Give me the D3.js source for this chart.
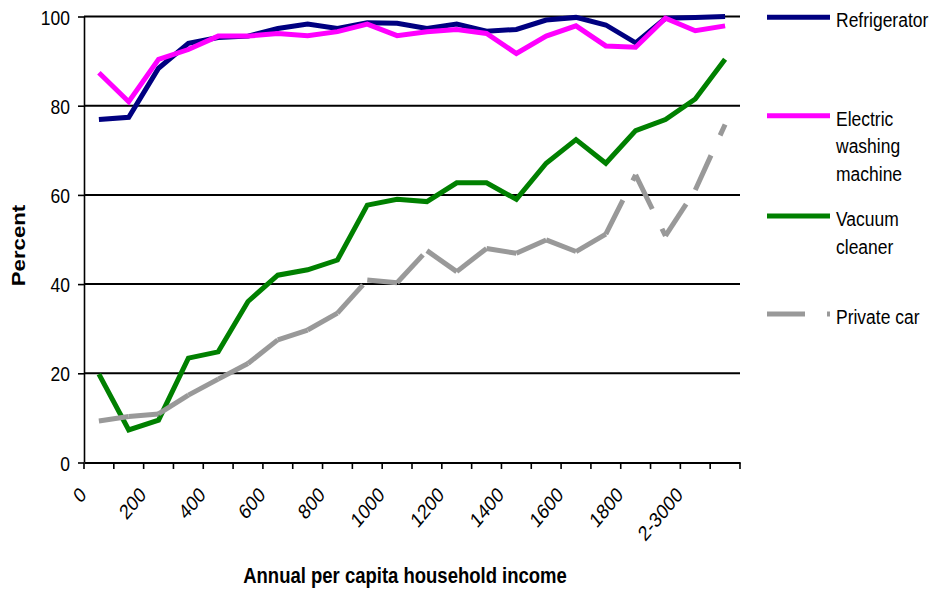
<!DOCTYPE html>
<html>
<head>
<meta charset="utf-8">
<script src="https://cdn.jsdelivr.net/npm/d3@7"></script>
<style>
  html, body { margin: 0; padding: 0; background: #ffffff; }
  svg { display: block; }
</style>
</head>
<body>
<svg id="chart" width="933" height="591"></svg>
<script>
// Household durables ownership by annual per capita income
const incomeBands = ["0", "100", "200", "300", "400", "500", "600", "700", "800", "900",
  "1000", "1100", "1200", "1300", "1400", "1500", "1600", "1700", "1800", "1900", "2-3000", "3000+"];
const tickLabels = ["0", "200", "400", "600", "800", "1000", "1200", "1400", "1600", "1800", "2-3000"];
const yTicks = [0, 20, 40, 60, 80, 100];

const refrigerator = [76.9, 77.4, 88.4, 94.0, 95.3, 95.6, 97.3, 98.3, 97.3, 98.6, 98.5,
  97.3, 98.3, 96.7, 97.1, 99.2, 99.8, 98.1, 94.1, 99.6, 99.8, 100];
const washingMachine = [87.4, 80.9, 90.4, 92.6, 95.6, 95.6, 96.2, 95.7, 96.6, 98.3, 95.7,
  96.6, 97.1, 96.2, 91.7, 95.6, 97.9, 93.4, 93.1, 99.6, 96.8, 97.9];
const vacuumCleaner = [19.8, 7.3, 9.5, 23.4, 24.8, 36.1, 42.0, 43.2, 45.4, 57.7, 59.0,
  58.5, 62.7, 62.7, 59.0, 67.1, 72.4, 67.1, 74.4, 76.9, 81.5, 90.4];
const privateCar = [9.3, 10.3, 10.9, 15.1, 18.7, 22.2, 27.5, 29.7, 33.5, 40.9, 40.3,
  47.5, 42.8, 48.0, 46.9, 49.9, 47.3, 51.2, 64.5, 50.8, 61.1, 75.8];

const seriesNames = [["Refrigerator"], ["Electric", "washing", "machine"], ["Vacuum", "cleaner"], ["Private car"]];
const seriesColors = ["#000080", "#ff00ff", "#008000", "#999999"];
const seriesValues = [refrigerator, washingMachine, vacuumCleaner, privateCar];
const seriesDashed = [false, false, false, true];

const FONT = "'Liberation Sans', Arial, sans-serif";
const STRETCH_Y = 1.2;   // text is drawn taller than wide
const DASH = "38,22";

const svg = d3.select("#chart");
const plot = { left: 84, right: 740, top: 16.5, bottom: 462.5 };

const x = d3.scaleBand().domain(incomeBands).range([plot.left, plot.right]).padding(0);
const y = d3.scaleLinear().domain([0, 100]).range([plot.bottom, plot.top]);
const cx = c => x(c) + x.bandwidth() / 2;

function label(parent, px, py, str, opts = {}) {
  const t = parent.append("text")
    .attr("transform", `translate(${px},${py}) scale(1,${STRETCH_Y}) rotate(${opts.rotate || 0})`)
    .attr("font-family", FONT)
    .attr("font-size", opts.size || 17.5)
    .attr("font-weight", opts.weight || "normal")
    .attr("text-anchor", opts.anchor || "start")
    .attr("fill", "#000")
    .text(str);
  return t;
}

// Horizontal gridlines
svg.append("g").selectAll("line")
  .data(yTicks.filter(v => v > 0))
  .join("line")
  .attr("x1", plot.left).attr("x2", plot.right)
  .attr("y1", d => y(d)).attr("y2", d => y(d))
  .attr("stroke", "#000").attr("stroke-width", 2);

// Y axis
const yAxis = svg.append("g")
  .attr("transform", `translate(${plot.left},0)`)
  .call(d3.axisLeft(y).tickValues(yTicks).tickSize(6).tickFormat(""));
yAxis.select(".domain").attr("stroke", "#000").attr("stroke-width", 1.6)
  .attr("d", `M0.5,${plot.top}V${plot.bottom}`);
yAxis.selectAll(".tick line").attr("stroke", "#000").attr("stroke-width", 1.6);
yTicks.forEach(v => label(svg, 70, y(v) + 8, String(v), { anchor: "end" }));

// X axis with tick marks on category boundaries
const xAxis = svg.append("g")
  .attr("transform", `translate(0,${plot.bottom})`)
  .call(d3.axisBottom(x).tickValues([]).tickSizeOuter(0));
xAxis.select(".domain").attr("stroke", "#000").attr("stroke-width", 2);
const boundaries = incomeBands.map(c => x(c)).concat([x(incomeBands[incomeBands.length - 1]) + x.bandwidth()]);
xAxis.selectAll("line.bound")
  .data(boundaries)
  .join("line")
  .attr("class", "bound")
  .attr("x1", d => d).attr("x2", d => d)
  .attr("y1", 0).attr("y2", 6.5)
  .attr("stroke", "#000").attr("stroke-width", 1.6);

incomeBands.forEach((c, i) => {
  if (i % 2 === 0 && tickLabels[i / 2] !== undefined) {
    label(svg, cx(c) - 11.5, 496, tickLabels[i / 2], { anchor: "end", rotate: -45 });
  }
});

// Axis titles
label(svg, 405, 583, "Annual per capita household income", { anchor: "middle", weight: "bold", size: 18.5 });
label(svg, 25, 245.5, "Percent", { anchor: "middle", weight: "bold", size: 18.5, rotate: -90 });

// Series lines
const line = d3.line().x(d => cx(d.band)).y(d => y(d.value));
seriesValues.forEach((vals, s) => {
  const pts = vals.map((v, i) => ({ band: incomeBands[i], value: v }));
  const g = svg.append("g");
  if (seriesDashed[s]) {
    // dash pattern restarts on every segment
    d3.pairs(pts).forEach(seg => {
      g.append("path")
        .attr("d", line(seg))
        .attr("fill", "none")
        .attr("stroke", seriesColors[s])
        .attr("stroke-width", 5)
        .attr("stroke-dasharray", DASH);
    });
  } else {
    g.append("path")
      .attr("d", line(pts))
      .attr("fill", "none")
      .attr("stroke", seriesColors[s])
      .attr("stroke-width", 5)
      .attr("stroke-linejoin", "miter");
  }
});

// Legend
const legendLineY = [17.3, 115.7, 216, 314];
const legend = svg.append("g");
seriesNames.forEach((lines, s) => {
  const ly = legendLineY[s];
  legend.append("line")
    .attr("x1", 767).attr("x2", 830)
    .attr("y1", ly).attr("y2", ly)
    .attr("stroke", seriesColors[s])
    .attr("stroke-width", 5)
    .attr("stroke-dasharray", seriesDashed[s] ? DASH : null);
  lines.forEach((t, k) => label(legend, 836, ly + 10 + k * 27.6, t));
});
</script>
</body>
</html>
